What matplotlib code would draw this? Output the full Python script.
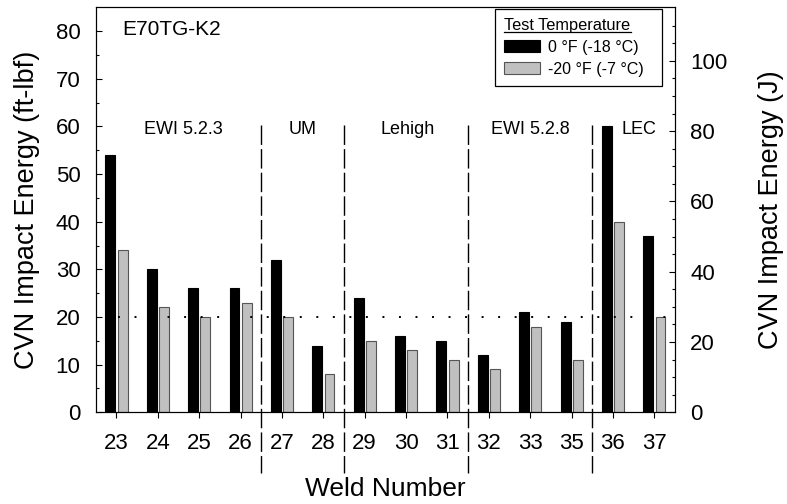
import numpy as np
import matplotlib
matplotlib.use("Agg")
import matplotlib.pyplot as plt
from matplotlib.lines import Line2D

plt.rcParams['font.family'] = ['Liberation Sans', 'DejaVu Sans']

welds = ['23', '24', '25', '26', '27', '28', '29', '30', '31', '32', '33', '35', '36', '37']
cvn_0F = [54, 30, 26, 26, 32, 14, 24, 16, 15, 12, 21, 19, 60, 37]
cvn_m20F = [34, 22, 20, 23, 20, 8, 15, 13, 11, 9, 18, 11, 40, 20]
groups = ['EWI 5.2.3', 'UM', 'Lehigh', 'EWI 5.2.8', 'LEC']
group_x = [1.62, 4.49, 7.05, 10.0, 12.64]
dividers = [3.5, 5.5, 8.5, 11.5]
req_level = 20
FT2J = 1.3558

fig = plt.figure(figsize=(7.87, 5.04), dpi=100)
ax = fig.add_axes([0.1216, 0.182, 0.7361, 0.8035])

x = np.arange(len(welds))
w = 0.24
b1 = ax.bar(x - 0.145, cvn_0F, w, color='black', edgecolor='black', linewidth=0.8,
            label='0 °F (-18 °C)', zorder=2)
b2 = ax.bar(x + 0.15, cvn_m20F, w, color='#c0c0c0', edgecolor='#555555', linewidth=0.8,
            label='-20 °F (-7 °C)', zorder=2)

ax.set_xlim(-0.5, 13.5)
ax.set_ylim(0, 85)
ax.set_xticks(x)
ax.set_xticklabels(welds)
ax.set_yticks(np.arange(0, 81, 10))
ax.set_yticks(np.arange(5, 85, 5), minor=True)
ax.tick_params(axis='x', direction='out', length=4, width=0.8, labelsize=16, pad=11)
ax.tick_params(axis='y', which='major', direction='in', length=4, width=0.8, labelsize=16, pad=11)
ax.tick_params(axis='y', which='minor', direction='in', length=2.5, width=0.8)
for s in ax.spines.values():
    s.set_linewidth(0.8)

# requirement level
ax.plot([0.05, 13.45], [req_level, req_level], color='black', lw=1.4,
        dashes=(1, 7.5), zorder=3)

# group dividers
for d in dividers:
    ax.plot([d, d], [60.3, -12.7], color='black', lw=1.0, dashes=(14, 3),
            clip_on=False, zorder=3)
for g, gx in zip(groups, group_x):
    ax.text(gx, 59.4, g, ha='center', va='center', fontsize=13)

ax.text(0.14, 80.4, 'E70TG-K2', ha='left', va='center', fontsize=15)

ax.set_xlabel('Weld Number', fontsize=19)
ax.xaxis.set_label_coords(0.5, -0.16)
ax.set_ylabel('CVN Impact Energy (ft-lbf)', fontsize=19.5)
ax.yaxis.set_label_coords(-0.096, 0.5)

ax2 = ax.twinx()
ax2.set_ylim(0, 85 * FT2J)
ax2.set_yticks(np.arange(0, 101, 20))
ax2.set_yticks(np.arange(5, 115, 5), minor=True)
ax2.tick_params(axis='y', which='major', direction='in', length=4, width=0.8, labelsize=16, pad=11)
ax2.tick_params(axis='y', which='minor', direction='in', length=2.5, width=0.8)
ax2.set_ylabel('CVN Impact Energy (J)', fontsize=19.5)
ax2.yaxis.set_label_coords(1.143, 0.5)

leg = ax.legend(handles=[b1, b2], title='Test Temperature', loc='upper left',
                bbox_to_anchor=(0.689, 0.8, 0.2885, 0.197), mode='expand',
                borderaxespad=0, fontsize=11.5, title_fontsize=11.8,
                frameon=True, fancybox=False, edgecolor='black', framealpha=1,
                handlelength=2.25, handleheight=0.75, handletextpad=0.5,
                labelspacing=0.42, borderpad=0.6, alignment='left')
leg.get_frame().set_linewidth(0.9)
leg.set_zorder(5)

fig.canvas.draw()
tb = leg.get_title().get_window_extent()
fig.add_artist(Line2D([tb.x0, tb.x1], [tb.y0 + 1, tb.y0 + 1], transform=None,
                      color='black', lw=0.9))

fig.savefig('out.png', dpi=100)
